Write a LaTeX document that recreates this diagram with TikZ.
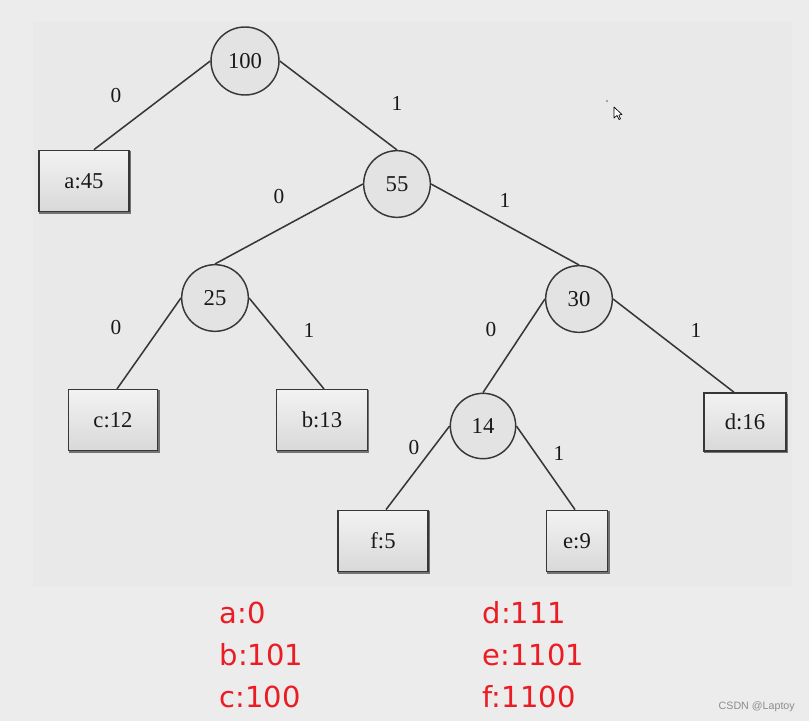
\documentclass[tikz,border=0pt]{standalone}
\usepackage{fontspec}
\setmainfont{Liberation Serif}
\newfontfamily\redfont{DejaVu Sans}
\newfontfamily\wmfont{Liberation Sans}
\usetikzlibrary{calc}
\definecolor{bgout}{RGB}{236,236,236}
\definecolor{bgin}{RGB}{233,233,233}
\definecolor{codered}{RGB}{236,28,36}
\definecolor{edgegray}{RGB}{55,55,55}
\begin{document}
\begin{tikzpicture}[x=0.75pt,y=-0.75pt,
  treetext/.style={font=\fontsize{17}{19}\selectfont, text=black!90},
  inner/.style={circle, draw=edgegray, line width=1.1pt, fill=white!89!black,
    minimum size=50pt, inner sep=0pt, treetext},
  leaf/.style={rectangle, draw=edgegray, line width=1.1pt,
    top color=white!95!black, bottom color=white!85!black,
    inner sep=0pt, minimum height=46pt, treetext,
    preaction={draw=black!55, line width=1.3pt, transform canvas={xshift=0.9pt, yshift=-1.1pt}}},
  branch/.style={draw=edgegray, line width=1.15pt},
  bit/.style={font=\fontsize{16}{18}\selectfont, text=black!90},
  codetext/.style={anchor=base west, font=\redfont\fontsize{21.75}{24}\selectfont, text=codered},
]
\useasboundingbox (0,0) rectangle (809,721);
\fill[bgout] (0,0) rectangle (809,721);
\fill[bgin] (33,22) rectangle (792,587);

% internal nodes
\node[inner, minimum size=51pt] (n100) at (245,61) {100};
\node[inner] (n55) at (397,184) {55};
\node[inner] (n25) at (215,298) {25};
\node[inner] (n30) at (579,299) {30};
\node[inner, minimum size=49pt] (n14) at (483,426) {14};

% leaves
\node[leaf, minimum width=67.5pt] (la) at (84,181) {a:45};
\node[leaf, minimum width=67pt, minimum height=45.5pt] (lc) at (113,420) {c:12};
\node[leaf, minimum width=68pt, minimum height=45.5pt] (lb) at (322,420) {b:13};
\node[leaf, minimum width=61.5pt, minimum height=43.5pt] (ld) at (745,422) {d:16};
\node[leaf, minimum width=67.5pt] (lf) at (383,541) {f:5};
\node[leaf, minimum width=46pt] (le) at (577,541) {e:9};

% connectors
\draw[branch] (n100.west) -- ([xshift=10*0.75pt]la.north);
\draw[branch] (n100.east) -- (n55.north);
\draw[branch] (n55.west) -- (n25.north);
\draw[branch] (n55.east) -- (n30.north);
\draw[branch] (n25.west) -- ([xshift=4*0.75pt]lc.north);
\draw[branch] (n25.east) -- ([xshift=2*0.75pt]lb.north);
\draw[branch] (n30.west) -- (n14.north);
\draw[branch] (n30.east) -- ([xshift=-11*0.75pt]ld.north);
\draw[branch] (n14.west) -- ([xshift=3*0.75pt]lf.north);
\draw[branch] (n14.east) -- ([xshift=-2*0.75pt]le.north);

% bit labels
\node[bit] (b1) at (116,96) {0};
\node[bit] (b2) at (397,103) {1};
\node[bit] (b3) at (279,197) {0};
\node[bit] (b4) at (505,200) {1};
\node[bit] (b5) at (116,328) {0};
\node[bit] (b6) at (309,330) {1};
\node[bit] (b7) at (491,330) {0};
\node[bit] (b8) at (696,330) {1};
\node[bit] (b9) at (414,448) {0};
\node[bit] (b10) at (559,453) {1};

% codes
\node[codetext] (ca) at (215,623) {a:0};
\node[codetext] (cb) at (215,665) {b:101};
\node[codetext] (cc) at (215,707) {c:100};
\node[codetext] (cd) at (478,623) {d:111};
\node[codetext] (ce) at (478,665) {e:1101};
\node[codetext] (cf) at (478,707) {f:1100};

% watermark
\node[anchor=base west, font=\wmfont\fontsize{8}{9}\selectfont, text=black!45] (wm) at (714,709) {CSDN @Laptoy};

% cursor and dot
\fill[black!45] (607,101) circle (1.2);
\draw[black, line width=0.5pt, fill=white, line join=round]
  (614,107) -- (614,118) -- (617,115.5) -- (619,119.5) -- (620.5,118.8) -- (618.8,115) -- (622,114.5) -- cycle;
\end{tikzpicture}
\end{document}
